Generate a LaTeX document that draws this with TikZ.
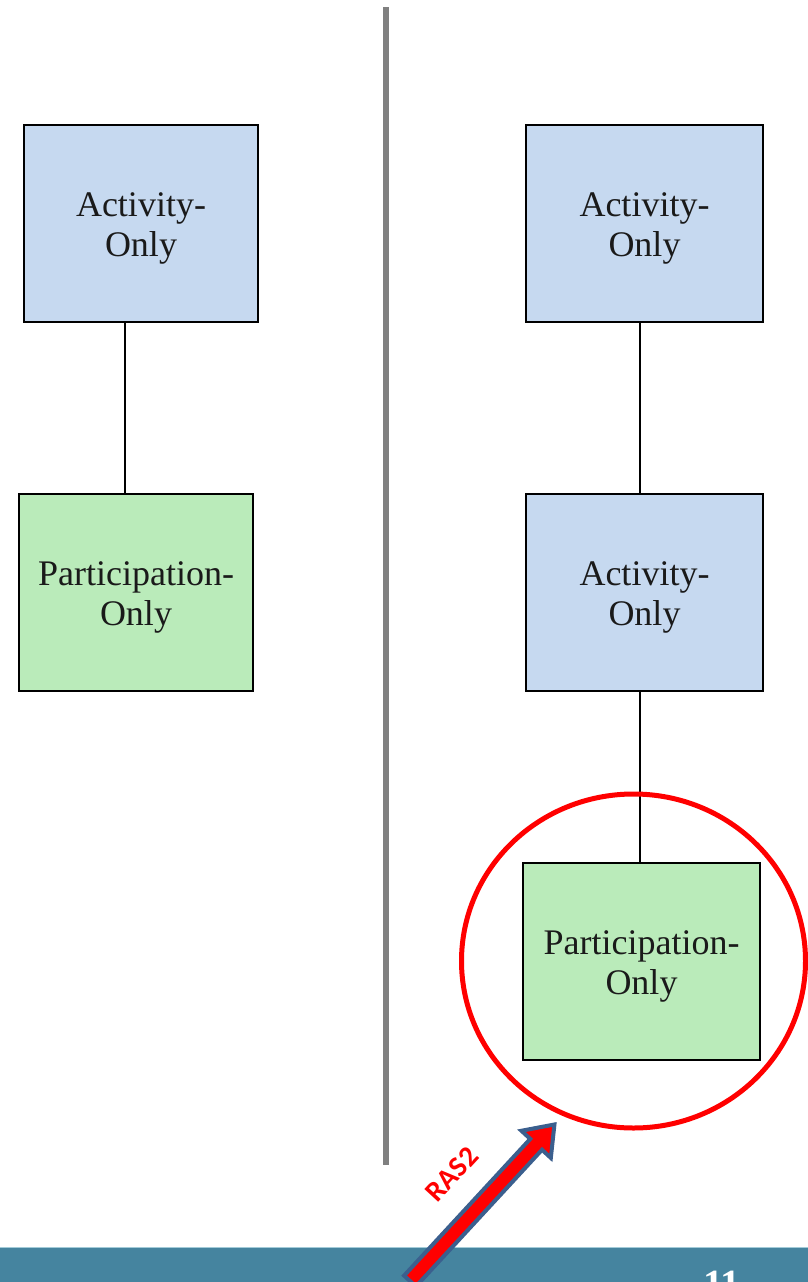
\documentclass[tikz,border=0pt]{standalone}
\usepackage{fontspec}
\setmainfont{Liberation Serif}
\newfontfamily\calib{Carlito}
\definecolor{boxblue}{HTML}{C6D9F0}
\definecolor{boxgreen}{HTML}{BAEBBA}
\definecolor{bargray}{HTML}{808080}
\definecolor{bartea}{HTML}{45849F}
\definecolor{barlight}{HTML}{A3CBD8}
\definecolor{arrowblue}{HTML}{3B5F8E}
\definecolor{txt}{HTML}{1A1A1A}
\newcommand\boxtext[2]{\raisebox{-5pt}[\height][\depth]{\begin{tabular}{@{}c@{}}#1\\#2\end{tabular}}}
\tikzset{
  blk/.style={draw=black, line width=2pt, minimum height=197pt, inner sep=0pt,
    text=txt, font=\fontsize{36}{40}\selectfont},
  actbox/.style={blk, fill=boxblue},
  partbox/.style={blk, fill=boxgreen},
  link/.style={draw=black, line width=1.6pt},
}
\begin{document}
\begin{tikzpicture}[x=1pt, y=-1pt]
\useasboundingbox (0,0) rectangle (808,1282);
\fill[white] (0,0) rectangle (808,1282);
% divider
\draw[bargray, line width=5.5pt] (386,7) -- (386,1165);
% left column
\node[actbox, minimum width=234pt] (la) at (141,223.5) {\boxtext{Activity-}{Only}};
\node[partbox, minimum width=234pt] (lp) at (136,592) {\boxtext{Participation-}{Only}};
\coordinate (lx) at (125,0);
\draw[link] (la.south -| lx) -- (lp.north -| lx);
% right column
\node[actbox, minimum width=237pt] (ra) at (644.5,223.5) {\boxtext{Activity-}{Only}};
\node[actbox, minimum width=237pt] (rb) at (644.5,592) {\boxtext{Activity-}{Only}};
\node[partbox, minimum width=237pt] (rp) at (641.5,961) {\boxtext{Participation-}{Only}};
\coordinate (rx) at (640,0);
\draw[link] (ra.south -| rx) -- (rb.north -| rx);
\draw[link] (rb.south -| rx) -- (rp.north -| rx);
% red circle
\draw[red, line width=5pt] (633.5,961) ellipse [x radius=172, y radius=167];
% bottom bar
\fill[bartea] (0,1248) rectangle (808,1282);
\draw[barlight, line width=1.5pt] (0,1247.5) -- (808,1247.5);
\node[anchor=base, text=white, font=\bfseries\fontsize{40}{40}\selectfont] (pg) at (722,1297) {11};
% arrow
\coordinate (tail) at (410,1281);
\begin{scope}[shift={(tail)}, rotate=47.3]
\filldraw[fill=red, draw=arrowblue, line width=4pt, line join=miter]
  (0,-8) -- (186,-8) -- (186,-20) -- (213,0) -- (186,20) -- (186,8) -- (0,8) -- cycle;
\end{scope}
\node[rotate=47.3, text=red, font=\calib\bfseries\fontsize{29}{29}\selectfont] (ras) at (452,1174) {RAS2};
\end{tikzpicture}
\end{document}
